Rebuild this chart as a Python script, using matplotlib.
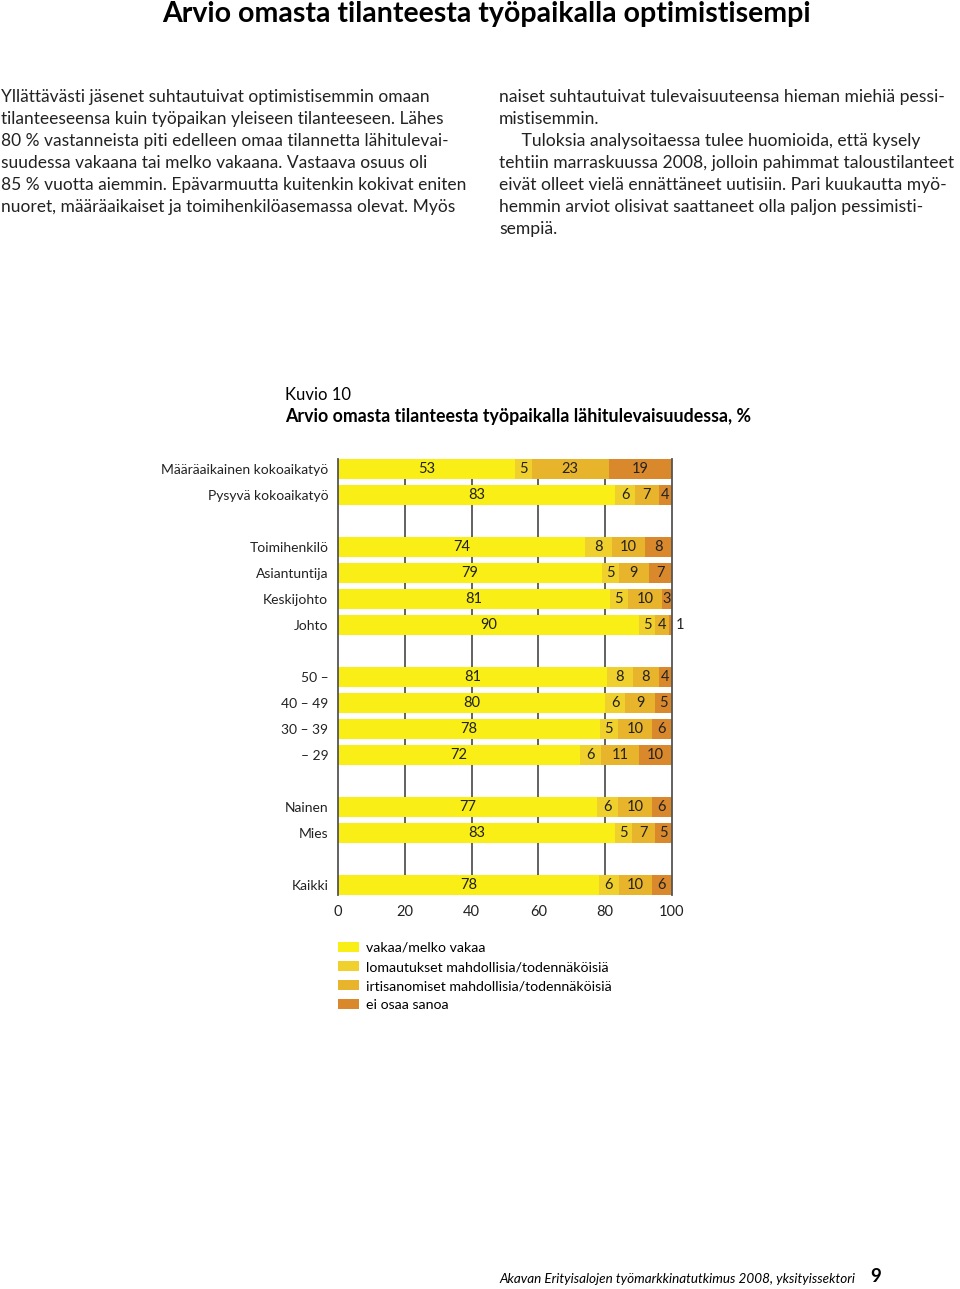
import matplotlib.pyplot as plt

plt.rcParams['font.family'] = ['Lato', 'DejaVu Sans']

# chart data (Kuvio 10), shares in %
categories = ['Määräaikainen kokoaikatyö', 'Pysyvä kokoaikatyö',
              'Toimihenkilö', 'Asiantuntija', 'Keskijohto', 'Johto',
              '50 –', '40 – 49', '30 – 39', '– 29',
              'Nainen', 'Mies',
              'Kaikki']
slots = [0, 1, 3, 4, 5, 6, 8, 9, 10, 11, 13, 14, 16]
vakaa = [53, 83, 74, 79, 81.4, 90, 80.6, 80, 78.4, 72.4, 77.4, 83, 78]
lomautukset = [5, 6, 8, 5, 5.4, 5, 7.6, 6, 5.3, 6.4, 6.4, 5, 6]
irtisanomiset = [23, 7, 10, 9, 10.2, 4, 7.8, 9, 10.3, 11.2, 10.2, 7, 10]
ei_osaa = [19, 4, 8, 7, 3, 1, 4, 5, 6, 10, 6, 5, 6]

series = [vakaa, lomautukset, irtisanomiset, ei_osaa]
series_names = ['vakaa/melko vakaa',
                'lomautukset mahdollisia/todennäköisiä',
                'irtisanomiset mahdollisia/todennäköisiä',
                'ei osaa sanoa']
colors = ['#F9EE16', '#EFD02C', '#E7B42C', '#D9892C']

left_text = [
    'Yllättävästi jäsenet suhtautuivat optimistisemmin omaan',
    'tilanteeseensa kuin työpaikan yleiseen tilanteeseen. Lähes',
    '80 % vastanneista piti edelleen omaa tilannetta lähitulevai-',
    'suudessa vakaana tai melko vakaana. Vastaava osuus oli',
    '85 % vuotta aiemmin. Epävarmuutta kuitenkin kokivat eniten',
    'nuoret, määräaikaiset ja toimihenkilöasemassa olevat. Myös',
]
right_text = [
    'naiset suhtautuivat tulevaisuuteensa hieman miehiä pessi-',
    'mistisemmin.',
    '     Tuloksia analysoitaessa tulee huomioida, että kysely',
    'tehtiin marraskuussa 2008, jolloin pahimmat taloustilanteet',
    'eivät olleet vielä ennättäneet uutisiin. Pari kuukautta myö-',
    'hemmin arviot olisivat saattaneet olla paljon pessimisti-',
    'sempiä.',
]

W, H = 960, 1289
fig = plt.figure(figsize=(W / 100, H / 100), dpi=100)


def fx(px):
    return px / W


def fy(py):
    return 1 - py / H


fig.text(fx(486), fy(14), 'Arvio omasta tilanteesta työpaikalla optimistisempi',
         ha='center', va='center', fontsize=20.5, fontweight='bold')

for i, line in enumerate(left_text):
    fig.text(fx(1), fy(97 + 22 * i), line, ha='left', va='center',
             fontsize=12.5, color='#222222')
for i, line in enumerate(right_text):
    fig.text(fx(499), fy(97 + 22 * i), line, ha='left', va='center',
             fontsize=12.6, color='#222222')

fig.text(fx(285), fy(395), 'Kuvio 10', ha='left', va='center', fontsize=12)
fig.text(fx(285), fy(417), 'Arvio omasta tilanteesta työpaikalla lähitulevaisuudessa, %',
         ha='left', va='center', fontsize=12.8, fontweight='bold')

# chart
ax = fig.add_axes([fx(338), 1 - 895.4 / H, 334 / W, 436.8 / H])
lefts = [0] * len(categories)
for vals, name, col in zip(series, series_names, colors):
    ax.barh(slots, vals, left=lefts, height=0.77, color=col, label=name,
            zorder=2)
    for y, l, v in zip(slots, lefts, vals):
        if v >= 2:
            ax.text(l + v / 2, y, f'{round(v)}', ha='center', va='center',
                    fontsize=10.5, color='#222222', zorder=3)
        else:
            ax.text(l + v + 2.5, y, f'{round(v)}', ha='center', va='center',
                    fontsize=10.5, color='#222222', zorder=3)
    lefts = [l + v for l, v in zip(lefts, vals)]

ax.set_xlim(0, 100)
ax.set_ylim(16.4, -0.4)
ax.set_yticks(slots)
ax.set_yticklabels(categories)
ax.set_xticks([0, 20, 40, 60, 80, 100])
ax.tick_params(axis='both', length=0, labelsize=10, colors='#222222')
ax.tick_params(axis='x', pad=7, labelsize=10.5)
ax.tick_params(axis='y', pad=7)
for x in [20, 40, 60, 80]:
    ax.axvline(x, color='#555555', linewidth=1.3, zorder=1)
for side in ['top', 'bottom']:
    ax.spines[side].set_visible(False)
for side in ['left', 'right']:
    ax.spines[side].set_color('#555555')
    ax.spines[side].set_linewidth(1.3)

ax.legend(loc='upper left', bbox_to_anchor=(fx(338), fy(942)),
          bbox_transform=fig.transFigure, frameon=False, fontsize=10.2,
          handlelength=1.45, handleheight=0.7, handletextpad=0.5,
          labelspacing=0.5, borderpad=0, borderaxespad=0)

fig.text(fx(499), fy(1279), 'Akavan Erityisalojen työmarkkinatutkimus 2008, yksityissektori',
         ha='left', va='center', fontsize=9.75, style='italic')
fig.text(fx(870), fy(1277), '9', ha='left', va='center', fontsize=13.5,
         fontweight='bold')

fig.savefig('out.png', dpi=100)
